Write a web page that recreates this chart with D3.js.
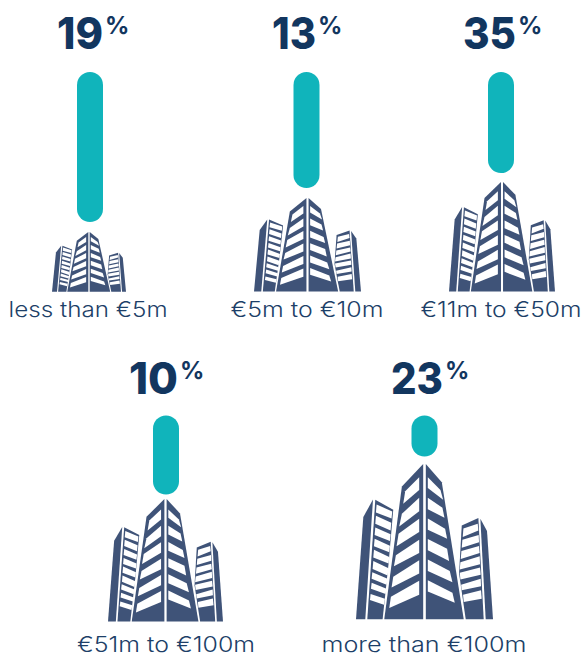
<!DOCTYPE html>
<html>
<head>
<meta charset="utf-8">
<script src="https://d3js.org/d3.v7.min.js"></script>
<style>
  html, body { margin: 0; padding: 0; background: #fff; }
  svg { display: block; }
</style>
</head>
<body>
<svg width="584" height="657"></svg>
<script>
// Revenue bands, shown as a pill sitting on top of a building icon
const categories = ["less than €5m", "€5m to €10m", "€11m to €50m", "€51m to €100m", "more than €100m"];
const percents = [19, 13, 35, 10, 23];
// pill lengths as drawn in the picture (they do not follow the percentages)
const pillLengths = [150, 116, 101, 79, 41];

const navy = "#12365f";
const labelColor = "#1d3f68";
const buildingColor = "#3f5378";
const teal = "#10b4bb";

// layout per category: pill centre, top of pill, icon box, text positions
const layout = [
  { cx: 90, top: 72, bx: 52, bw: 74, by: 232, bh: 60, numX: 57, numW: 46, numY: 49, labelX: 88, labelY: 317, labelW: 159 },
  { cx: 306.5, top: 72, bx: 254, bw: 107, by: 198, bh: 94, numX: 272, numW: 44, numY: 49, labelX: 307, labelY: 317, labelW: 153 },
  { cx: 501, top: 72, bx: 449, bw: 106, by: 182, bh: 110, numX: 463, numW: 53, numY: 49, labelX: 501, labelY: 317, labelW: 161 },
  { cx: 166, top: 415.5, bx: 108, bw: 115, by: 499, bh: 123, numX: 129, numW: 49, numY: 394, labelX: 166, labelY: 652, labelW: 178 },
  { cx: 424.5, top: 415.5, bx: 356, bw: 137, by: 464, bh: 156, numX: 391, numW: 52, numY: 394, labelX: 424, labelY: 652, labelW: 205 }
];

const svg = d3.select("svg");

// pill length scale, 1:1 with the pixels
const pillScale = d3.scaleLinear().domain([0, 150]).range([0, 150]);

// building icon, drawn in its own box
const iconX = d3.scaleLinear().domain([48, 460]);
const iconY = d3.scaleLinear().domain([40, 510]);

const walls = [
  [[250,40],[186,108],[133,508],[250,508]],
  [[258,40],[306,95],[372,508],[258,508]],
  [[99,147],[70,200],[48,508],[76,508]],
  [[106,148],[160,178],[146,340],[128,508],[82,508]],
  [[366,225],[416,203],[432,508],[378,508],[358,370]],
  [[422,205],[442,242],[460,508],[438,508]]
];
const bigWindows = [
  [[238,80],[196,122],[190,160],[238,118]],
  [[238,142],[186,190],[178,228],[238,182]],
  [[238,205],[176,250],[170,288],[238,245]],
  [[238,268],[168,315],[162,348],[238,308]],
  [[238,330],[160,380],[155,412],[238,370]],
  [[238,392],[153,440],[148,474],[238,434]],
  [[264,80],[302,118],[310,148],[264,112]],
  [[264,142],[308,172],[314,202],[264,176]],
  [[264,204],[316,235],[322,265],[264,238]],
  [[264,266],[322,295],[328,332],[264,300]],
  [[264,328],[330,362],[338,396],[264,362]],
  [[264,390],[338,428],[345,458],[264,424]]
];
const leftWindows = [
  [[110,162],[157,183],[155,204],[108,186]],
  [[108,196],[154,217],[152,240],[106,220]],
  [[106,231],[152,252],[150,272],[104,254]],
  [[104,265],[150,286],[148,306],[102,288]],
  [[102,298],[148,320],[146,340],[100,322]],
  [[100,332],[146,354],[143,376],[98,356]],
  [[97,366],[143,386],[140,404],[95,386]],
  [[95,398],[140,416],[137,432],[93,416]],
  [[92,432],[135,446],[132,464],[90,450]]
];
const rightWindows = [
  [[371,234],[414,220],[416,240],[369,260]],
  [[368,268],[417,254],[418,276],[366,292]],
  [[365,302],[418,287],[420,308],[363,326]],
  [[362,336],[420,318],[421,342],[360,358]],
  [[360,368],[421,352],[423,374],[362,388]],
  [[364,404],[423,386],[424,408],[366,420]],
  [[370,434],[424,420],[426,446],[372,456]]
];

function polyPath(points, x, y) {
  return "M" + points.map(p => x(p[0]) + "," + y(p[1])).join("L") + "Z";
}

function drawBuilding(g, box) {
  const x = iconX.copy().range([box.bx, box.bx + box.bw]);
  const y = iconY.copy().range([box.by, box.by + box.bh]);
  g.selectAll("path.wall")
    .data(walls)
    .join("path")
    .attr("class", "wall")
    .attr("d", d => polyPath(d, x, y))
    .attr("fill", buildingColor);
  g.selectAll("path.window")
    .data(bigWindows.concat(leftWindows, rightWindows))
    .join("path")
    .attr("class", "window")
    .attr("d", d => polyPath(d, x, y))
    .attr("fill", "#fff");
}

const groups = svg.selectAll("g.item")
  .data(categories.map((c, i) => ({ label: c, pct: percents[i], len: pillLengths[i], pos: layout[i] })))
  .join("g")
  .attr("class", "item");

groups.append("rect")
  .attr("x", d => d.pos.cx - 13)
  .attr("y", d => d.pos.top)
  .attr("width", 26)
  .attr("height", d => pillScale(d.len))
  .attr("rx", 13)
  .attr("fill", teal);

groups.append("g").each(function(d) { drawBuilding(d3.select(this), d.pos); });

groups.append("text")
  .attr("x", d => d.pos.numX)
  .attr("y", d => d.pos.numY)
  .attr("fill", navy)
  .attr("font-family", "Inter, sans-serif")
  .attr("font-weight", 800)
  .attr("font-size", 44)
  .attr("textLength", d => d.pos.numW)
  .attr("lengthAdjust", "spacingAndGlyphs")
  .text(d => d.pct);

groups.append("text")
  .attr("x", d => d.pos.numX + d.pos.numW + 2)
  .attr("y", d => d.pos.numY - 15)
  .attr("fill", navy)
  .attr("font-family", "Inter, sans-serif")
  .attr("font-weight", 700)
  .attr("font-size", 24)
  .text("%");

groups.append("text")
  .attr("x", d => d.pos.labelX)
  .attr("y", d => d.pos.labelY)
  .attr("text-anchor", "middle")
  .attr("fill", labelColor)
  .attr("font-family", "Inter, sans-serif")
  .attr("font-weight", 300)
  .attr("font-size", 21)
  .attr("textLength", d => d.pos.labelW)
  .attr("lengthAdjust", "spacingAndGlyphs")
  .text(d => d.label);
</script>
</body>
</html>
